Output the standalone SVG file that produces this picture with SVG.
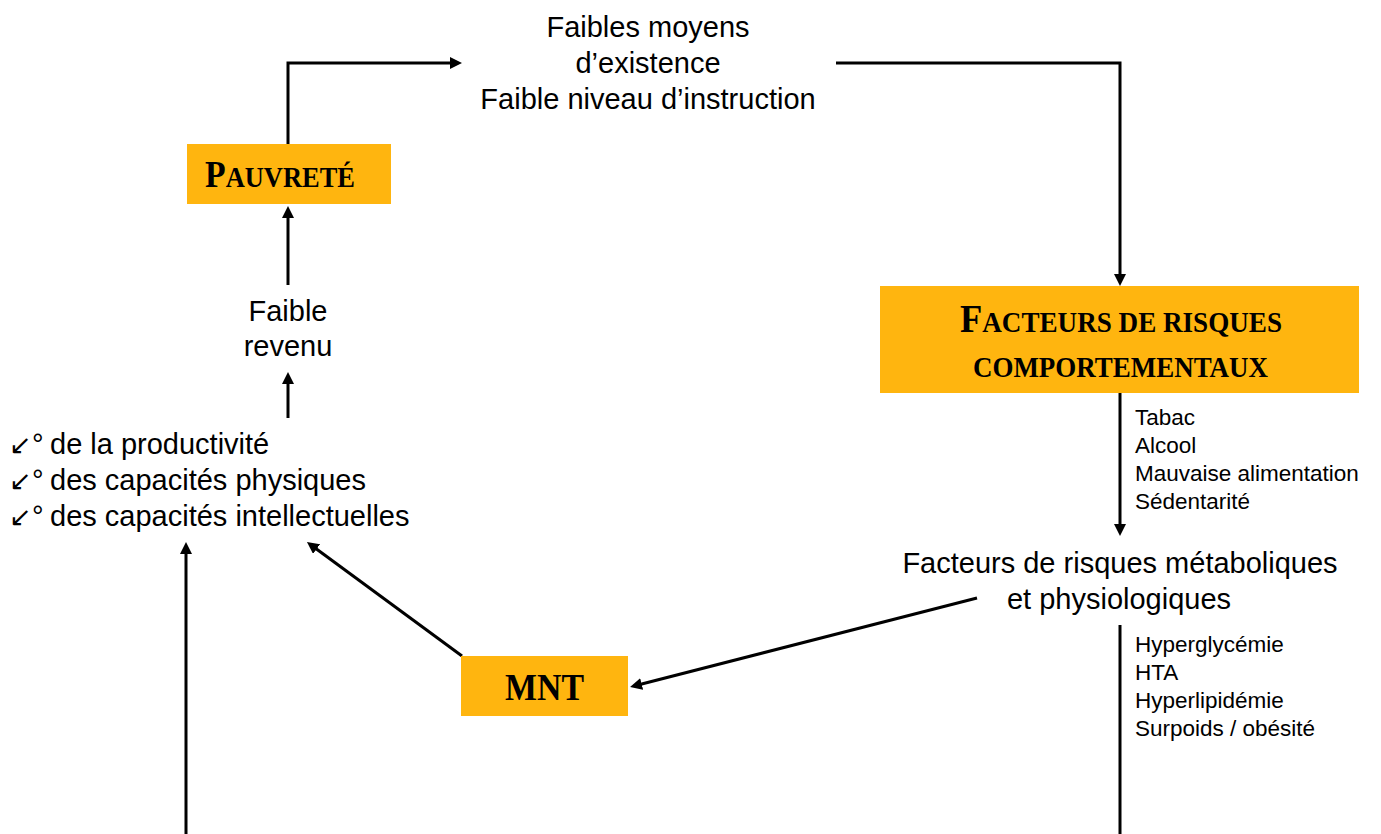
<svg xmlns="http://www.w3.org/2000/svg" width="1381" height="834" viewBox="0 0 1381 834">
<style>
.box{fill:#FFB50F}
.sc{font-family:"Liberation Serif",serif;font-weight:bold;fill:#000}
.t{font-family:"Liberation Sans",Arial,sans-serif;font-size:29px;fill:#000}
.s{font-family:"Liberation Sans",Arial,sans-serif;font-size:22.5px;fill:#000}
.c{stroke:#000;stroke-width:3;fill:none}
</style>
<defs>
<marker id="ah" markerUnits="userSpaceOnUse" markerWidth="12" markerHeight="12" refX="4" refY="6" orient="auto">
<path d="M0,0 L12,6 L0,12 z" fill="#000"/>
</marker>
</defs>
<rect width="1381" height="834" fill="#fff"/>
<g id="connectors">
<polyline class="c" points="288,144 288,63 454,63" marker-end="url(#ah)"/>
<polyline class="c" points="836,63 1120,63 1120,278" marker-end="url(#ah)"/>
<line class="c" x1="288" y1="285" x2="288" y2="214" marker-end="url(#ah)"/>
<line class="c" x1="288" y1="418" x2="288" y2="380" marker-end="url(#ah)"/>
<line class="c" x1="1120" y1="393" x2="1120" y2="528" marker-end="url(#ah)"/>
<line class="c" x1="1120" y1="625" x2="1120" y2="834"/>
<line class="c" x1="186" y1="834" x2="186" y2="550" marker-end="url(#ah)"/>
<line class="c" x1="462" y1="656" x2="313.4" y2="546.7" marker-end="url(#ah)"/>
<line class="c" x1="977" y1="598" x2="637.8" y2="685" marker-end="url(#ah)"/>
</g>
<g id="pauvrete">
<rect class="box" x="187" y="144" width="204" height="60"/>
<text class="sc" x="205" y="187" textLength="150" lengthAdjust="spacingAndGlyphs"><tspan font-size="37">P</tspan><tspan font-size="29">AUVRETÉ</tspan></text>
</g>
<g id="facteurs-comportementaux">
<rect class="box" x="880" y="286" width="479" height="107"/>
<text class="sc" x="960" y="332" textLength="322" lengthAdjust="spacingAndGlyphs"><tspan font-size="39">F</tspan><tspan font-size="29">ACTEURS DE RISQUES</tspan></text>
<text class="sc" x="973" y="377" font-size="29" textLength="295" lengthAdjust="spacingAndGlyphs">COMPORTEMENTAUX</text>
</g>
<g id="mnt">
<rect class="box" x="461" y="656" width="167" height="60"/>
<text class="sc" x="505" y="700" font-size="38" textLength="79" lengthAdjust="spacingAndGlyphs">MNT</text>
</g>
<g id="faibles-moyens">
<text class="t" x="648" y="37" text-anchor="middle">Faibles moyens</text>
<text class="t" x="648" y="73" text-anchor="middle">d’existence</text>
<text class="t" x="648" y="109" text-anchor="middle">Faible niveau  d’instruction</text>
</g>
<g id="faible-revenu">
<text class="t" x="288" y="321" text-anchor="middle">Faible</text>
<text class="t" x="288" y="356" text-anchor="middle">revenu</text>
</g>
<g id="consequences">
<text class="t" y="454"><tspan x="9" font-size="27">↙</tspan><tspan x="32">°</tspan><tspan x="50">de la productivité</tspan></text>
<text class="t" y="490"><tspan x="9" font-size="27">↙</tspan><tspan x="32">°</tspan><tspan x="50">des capacités physiques</tspan></text>
<text class="t" y="526"><tspan x="9" font-size="27">↙</tspan><tspan x="32">°</tspan><tspan x="50">des capacités intellectuelles</tspan></text>
</g>
<g id="comportements">
<text class="s" x="1135" y="425">Tabac</text>
<text class="s" x="1135" y="453">Alcool</text>
<text class="s" x="1135" y="481">Mauvaise alimentation</text>
<text class="s" x="1135" y="509">Sédentarité</text>
</g>
<g id="facteurs-metaboliques">
<text class="t" x="1120" y="573" text-anchor="middle">Facteurs de risques métaboliques</text>
<text class="t" x="1119" y="609" text-anchor="middle">et physiologiques</text>
</g>
<g id="metaboliques-liste">
<text class="s" x="1135" y="652">Hyperglycémie</text>
<text class="s" x="1135" y="680">HTA</text>
<text class="s" x="1135" y="708">Hyperlipidémie</text>
<text class="s" x="1135" y="736">Surpoids  / obésité</text>
</g>
</svg>
